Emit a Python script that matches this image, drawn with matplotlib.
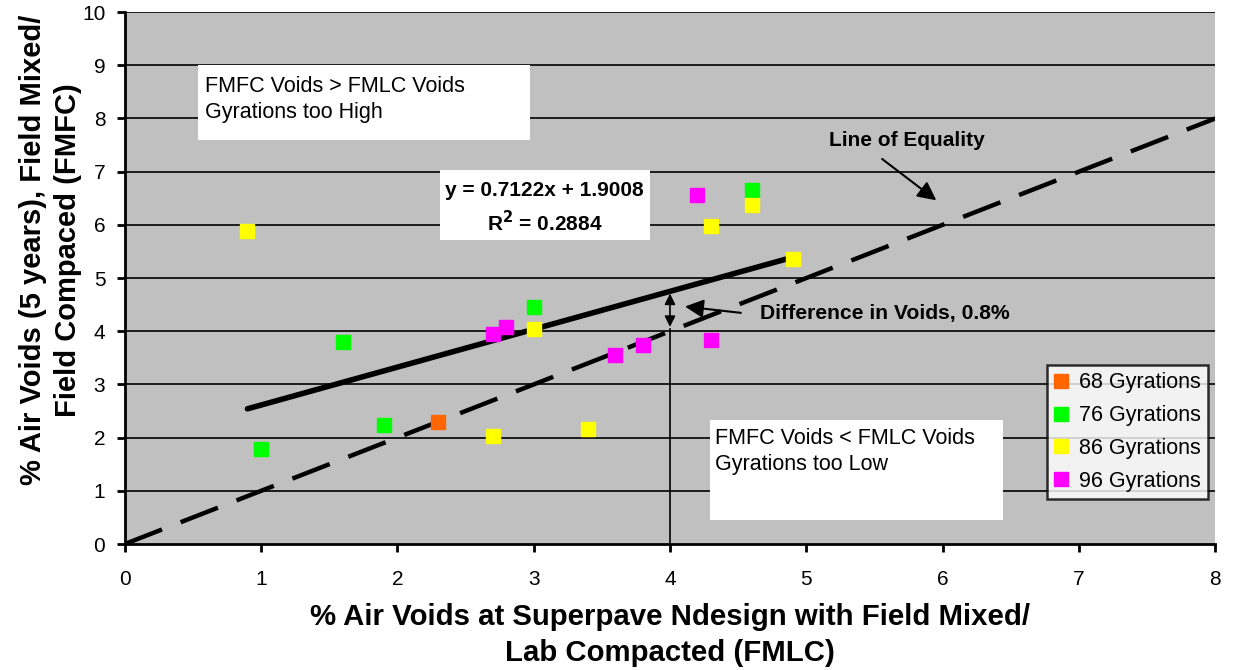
# Air voids: field mixed/field compacted vs field mixed/lab compacted
import numpy as np
import matplotlib.pyplot as plt
from matplotlib.patches import Rectangle

plt.rcParams['font.family'] = ['Liberation Sans', 'DejaVu Sans']

# Data, grouped by gyration level.
x68 = [2.3]
y68 = [2.3]
x76 = [1.0, 1.6, 1.9, 3.0, 4.6]
y76 = [1.78, 3.8, 2.23, 4.45, 6.65]
x86 = [0.9, 2.7, 3.0, 3.4, 4.3, 4.6, 4.9]
y86 = [5.88, 2.04, 4.04, 2.16, 5.98, 6.37, 5.35]
x96 = [2.7, 2.8, 3.6, 3.8, 4.2, 4.3]
y96 = [3.95, 4.08, 3.55, 3.75, 6.56, 3.83]

labels = ['68 Gyrations', '76 Gyrations', '86 Gyrations', '96 Gyrations']
colors = ['#FF6600', '#00FF00', '#FFFF00', '#FF00FF']

# Trend line y = 0.7122x + 1.9008 over the data range.
slope = 0.7122
icpt = 1.9008
trend_x = [0.9, 4.9]
eq_x = [0, 8]

fig = plt.figure(figsize=(12.35, 6.7), dpi=100)
ax = fig.add_axes([0.101, 0.188, 0.883, 0.794])
ax.set_facecolor('#C0C0C0')

# Gridlines (horizontal only).
for yv in range(1, 11):
    ax.axhline(yv, color='black', lw=1.2, zorder=1)

# Line of equality (dashed) and trend line.
ax.plot(eq_x, eq_x, color='black', lw=3.2, dashes=(9, 4.5), zorder=2)
tx = np.array(trend_x)
ax.plot(tx, slope * tx + icpt, color='black', lw=4, solid_capstyle='round', zorder=2)

# Scatter points.
for xs, ys, lab, c in zip([x68, x76, x86, x96], [y68, y76, y86, y96], labels, colors):
    ax.plot(xs, ys, 's', color=c, markersize=9.5, markeredgecolor=c,
            linestyle='none', label=lab, zorder=3)

# Text boxes.
ax.add_patch(Rectangle((0.54, 7.59), 2.43, 1.41, facecolor='white', edgecolor='none', zorder=4))
ax.text(0.59, 8.61, 'FMFC Voids > FMLC Voids', fontsize=15.5, va='center', zorder=5)
ax.text(0.59, 8.12, 'Gyrations too High', fontsize=15.5, va='center', zorder=5)

ax.add_patch(Rectangle((2.31, 5.71), 1.54, 1.32, facecolor='white', edgecolor='none', zorder=4))
ax.text(3.08, 6.65, 'y = 0.7122x + 1.9008', fontsize=15, fontweight='bold',
        ha='center', va='center', zorder=5)
ax.text(3.08, 6.05, r'R$^\mathbf{2}$ = 0.2884', fontsize=15, fontweight='bold',
        ha='center', va='center', zorder=5)

ax.add_patch(Rectangle((4.29, 0.45), 2.15, 1.88, facecolor='white', edgecolor='none', zorder=4))
ax.text(4.33, 1.98, 'FMFC Voids < FMLC Voids', fontsize=15.5, va='center', zorder=5)
ax.text(4.33, 1.5, 'Gyrations too Low', fontsize=15.5, va='center', zorder=5)

# Annotations.
ax.text(5.17, 7.59, 'Line of Equality', fontsize=15, fontweight='bold', va='center', zorder=5)
ax.annotate('', xy=(5.97, 6.43), xytext=(5.54, 7.27),
            arrowprops=dict(arrowstyle='-|>', color='black', lw=1.5, mutation_scale=28), zorder=5)

ax.text(4.66, 4.34, 'Difference in Voids, 0.8%', fontsize=15.2, fontweight='bold',
        va='center', zorder=5)
ax.annotate('', xy=(4.09, 4.47), xytext=(4.54, 4.34),
            arrowprops=dict(arrowstyle='-|>', color='black', lw=1.5, mutation_scale=28), zorder=5)

ax.plot([4.0, 4.0], [0, 4.05], color='black', lw=1.2, zorder=2)
ax.annotate('', xy=(4.0, 4.76), xytext=(4.0, 4.03),
            arrowprops=dict(arrowstyle='<|-|>', color='black', lw=1.2, mutation_scale=16), zorder=5)

# Axes.
ax.set_xlim(0, 8)
ax.set_ylim(0, 10)
ax.set_xticks(range(0, 9))
ax.set_yticks(range(0, 11))
for s in ['top', 'right']:
    ax.spines[s].set_visible(False)
for s in ['left', 'bottom']:
    ax.spines[s].set_linewidth(2)
ax.tick_params(axis='both', direction='out', length=6, width=2, labelsize=15)
ax.tick_params(axis='x', pad=13)
ax.tick_params(axis='y', pad=8)

ax.set_xlabel('% Air Voids at Superpave Ndesign with Field Mixed/\nLab Compacted (FMLC)',
              fontsize=21.2, fontweight='bold', labelpad=10, linespacing=1.35)
ax.set_ylabel('% Air Voids (5 years), Field Mixed/\nField Compaced (FMFC)',
              fontsize=21, fontweight='bold', linespacing=1.35)
ax.yaxis.set_label_coords(-0.039, 0.553)

leg = ax.legend(loc='upper left', bbox_to_anchor=(0.846, 0.337), fontsize=15.5,
                frameon=True, fancybox=False, handlelength=0.6, handletextpad=0.5,
                labelspacing=0.55, borderpad=0.35, borderaxespad=0)
leg.get_frame().set_edgecolor('black')
leg.get_frame().set_linewidth(1.8)
leg.set_zorder(6)

plt.savefig('out.png', dpi=100)
